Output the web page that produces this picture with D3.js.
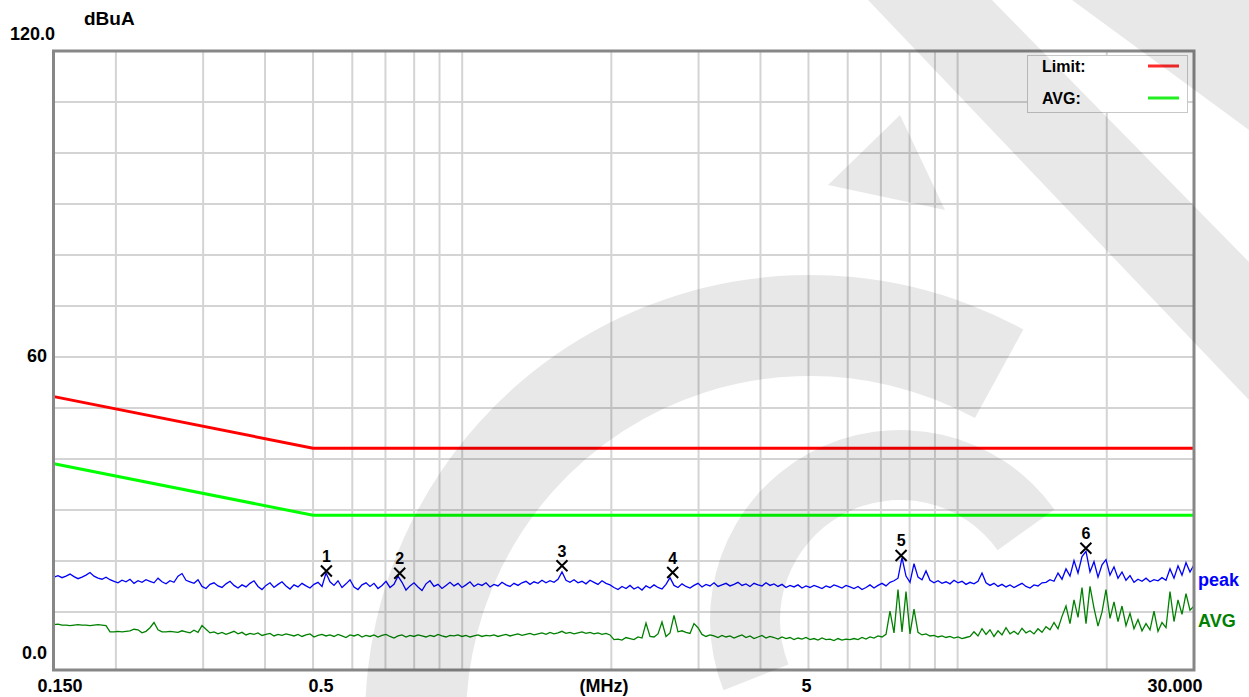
<!DOCTYPE html>
<html><head><meta charset="utf-8">
<script src="https://cdn.jsdelivr.net/npm/d3@7/dist/d3.min.js"></script>
<style>body{margin:0;background:#fff}svg{display:block}text{font-family:"Liberation Sans",Arial,sans-serif;font-weight:bold}</style>
</head><body><svg id="c" width="1249" height="697"></svg>
<script>
// ---------- data ----------
const xTickValues = [0.15, 0.5, 5, 30];
const xTickLabels = ["0.150", "0.5", "5", "30.000"];
const xUnit = "(MHz)";
const yTickValues = [0, 60, 120];
const yTickLabels = ["0.0", "60", "120.0"];
const yUnit = "dBuA";
const gridFreqs = [0.2,0.3,0.4,0.5,0.6,0.7,0.8,0.9,1,2,3,4,5,6,7,8,9,10,20];
const gridLevels = [10,20,30,40,50,60,70,80,90,100,110];
const limitFreq = [0.15, 0.5, 30];
const limitQP = [53, 43, 43];
const limitAV = [40, 30, 30];
const legendItems = ["Limit:", "AVG:"];
const markerFreq = [0.532, 0.748, 1.59, 2.66, 7.69, 18.15];
const markerLevel = [19.2, 18.75, 20.2, 18.9, 22.2, 23.6];
const markerLabels = ["1","2","3","4","5","6"];
const peakTrace = [
18.0,18.3,17.9,18.2,18.6,18.1,17.7,18.0,18.4,18.9,
18.2,17.8,17.6,18.0,17.5,17.2,16.9,17.4,17.1,17.6,
16.8,17.3,17.0,17.5,17.2,16.9,17.8,17.1,16.7,17.3,
17.0,18.2,18.7,17.4,17.1,16.8,17.5,16.2,15.8,16.6,
16.9,16.3,16.0,16.7,17.2,16.4,15.9,16.5,16.1,16.8,
17.3,16.2,15.6,16.4,16.9,16.0,16.6,17.1,16.3,15.7,
16.5,16.1,16.8,16.3,15.9,16.6,17.0,16.2,18.8,17.1,
16.4,17.3,16.0,16.7,17.5,16.1,15.6,16.5,16.9,16.2,
16.8,15.8,16.4,17.2,16.0,16.6,18.2,17.0,15.5,16.3,
16.9,16.1,15.4,16.7,17.3,16.2,16.6,15.8,16.4,17.0,
16.3,16.8,16.0,16.5,17.1,16.2,16.7,16.4,16.9,16.1,
16.6,16.3,17.0,16.5,16.2,16.8,16.4,16.9,17.2,16.6,
17.1,16.8,17.4,16.9,17.3,17.0,17.6,19.0,17.4,17.0,
17.5,16.9,17.2,16.7,17.4,17.0,16.6,17.3,16.8,16.5,
16.0,15.6,16.2,15.8,16.4,15.7,16.1,15.5,16.3,15.9,
16.5,16.0,15.7,16.6,17.9,16.4,16.0,16.7,16.2,15.9,
16.4,16.8,16.1,16.6,16.3,16.9,16.2,16.5,16.8,16.3,
16.6,17.0,16.4,16.7,16.2,16.8,16.5,16.3,16.9,16.4,
16.7,16.2,16.6,16.0,16.4,16.1,16.5,15.9,16.3,16.0,
16.4,16.1,15.8,16.3,16.0,16.5,16.2,15.9,16.4,16.1,
15.8,16.2,15.6,16.0,16.5,15.9,16.4,16.8,16.3,17.0,
17.3,17.8,21.8,18.2,17.0,20.6,18.0,17.5,19.2,17.4,
16.9,17.3,16.8,17.1,16.7,17.4,16.9,17.2,16.6,17.0,
16.7,17.2,18.8,16.9,16.4,16.8,16.2,16.6,16.1,16.5,
16.0,16.4,16.8,16.2,15.9,16.5,16.3,16.9,17.0,17.5,
17.2,18.8,17.6,19.6,18.2,21.2,18.8,22.0,23.0,19.0,
21.0,18.0,20.4,21.4,18.4,20.0,17.8,19.0,17.4,18.3,
17.0,17.6,17.2,17.8,17.1,17.5,17.3,17.9,17.4,19.6,
17.8,20.2,18.4,20.8,19.0,20.4];
const avgTrace = [
8.8,8.9,8.7,8.7,8.6,8.7,8.8,8.7,8.7,8.6,
8.7,8.8,8.7,8.6,7.4,7.4,7.5,7.4,7.5,7.6,
7.9,7.8,7.2,7.5,8.2,9.2,7.8,7.4,7.4,7.5,
7.4,7.3,7.6,7.4,7.2,7.7,7.3,8.6,7.9,7.2,
7.4,7.0,7.3,6.9,7.2,7.5,7.0,7.3,6.8,7.1,
6.9,7.2,6.7,6.9,7.1,6.6,6.9,6.7,7.0,6.8,
6.6,6.9,6.5,6.8,7.0,6.4,6.7,6.9,6.6,6.8,
6.5,6.9,6.6,6.3,6.8,6.6,6.9,6.4,6.7,6.5,
6.8,6.4,6.7,6.9,6.5,6.2,6.6,6.8,6.4,6.7,
6.5,6.8,6.6,6.4,6.7,6.5,6.9,6.6,6.4,6.7,
6.6,6.8,6.5,6.7,6.4,6.6,6.8,6.5,6.7,6.6,
6.8,6.5,6.7,6.9,6.6,6.8,7.0,6.7,6.9,7.1,
6.8,7.0,7.2,6.9,7.3,7.0,7.2,7.5,7.1,7.3,
7.0,7.2,7.4,7.1,7.3,7.0,7.2,6.9,7.1,6.8,
5.9,6.0,5.8,6.3,6.1,5.9,6.4,6.2,9.1,6.5,
6.4,7.0,9.3,6.5,7.2,10.6,7.4,7.6,7.3,7.1,
9.0,8.2,6.9,6.5,6.8,6.6,6.3,6.7,6.4,6.6,
6.2,6.5,6.8,6.3,6.6,6.1,6.4,6.7,6.2,6.5,
6.3,6.0,6.4,6.1,6.3,5.9,6.2,6.0,6.3,5.9,
6.1,5.8,6.2,5.9,6.0,5.7,6.1,5.8,6.0,5.9,
6.1,5.9,6.3,6.0,6.4,6.2,6.6,6.4,6.9,11.4,
7.2,15.6,7.4,15.2,7.0,11.8,7.3,6.8,7.0,6.6,
6.7,6.4,6.6,6.3,6.5,6.2,6.4,6.1,6.3,6.5,
7.4,6.6,8.0,6.9,7.8,6.5,7.6,6.8,8.2,7.0,
7.5,6.9,8.1,7.2,7.6,7.0,8.0,7.3,8.4,7.8,
9.2,8.0,10.4,12.4,9.0,13.6,10.2,16.0,9.0,16.2,
12.0,8.5,11.2,15.6,10.0,13.2,9.4,12.4,8.6,11.0,
8.0,9.8,7.6,9.0,7.8,11.4,7.5,9.2,8.2,15.2,
9.4,13.6,10.8,14.8,11.6,12.4];
const traceLabels = ["peak", "AVG"];
const traceLabelLevels = [17.5, 9.5];
// sweep frequencies: evenly spaced on the log axis from start to stop
const sweepStart = 0.15, sweepStop = 30;

// ---------- drawing ----------
const svg = d3.select("#c");
const L = 54, R = 1194, T = 51, B = 670;
const x = d3.scaleLog().domain([sweepStart, sweepStop]).range([L, R]);
const y = d3.scaleLinear().domain([0, 120]).range([B, T]);
const yGrid = d3.scaleLinear().domain([0, 120]).range([663, T]);
const sweep = i => sweepStart * Math.pow(sweepStop / sweepStart, i / (peakTrace.length - 1));

svg.append("rect").attr("width", 1249).attr("height", 697).attr("fill", "#fff");

// grid
const g = svg.append("g");
g.selectAll(".vg").data(gridFreqs).join("line")
  .attr("x1", d => x(d)).attr("x2", d => x(d)).attr("y1", T).attr("y2", B)
  .attr("stroke", "#d4d4d4").attr("stroke-width", 2);
g.selectAll(".hg").data(gridLevels).join("line")
  .attr("x1", L).attr("x2", R).attr("y1", d => yGrid(d)).attr("y2", d => yGrid(d))
  .attr("stroke", "#d4d4d4").attr("stroke-width", 2);

// limit lines
const limLine = vals => d3.line().x((d, i) => x(limitFreq[i])).y(d => y(d))(vals);
svg.append("path").attr("d", limLine(limitQP)).attr("fill", "none").attr("stroke", "#ff0000").attr("stroke-width", 3);
svg.append("path").attr("d", limLine(limitAV)).attr("fill", "none").attr("stroke", "#00ff00").attr("stroke-width", 3);

// traces
const tr = d3.line().x((d, i) => x(sweep(i))).y(d => y(d));
svg.append("path").attr("d", tr(avgTrace)).attr("fill", "none").attr("stroke", "#008000").attr("stroke-width", 1.3);
svg.append("path").attr("d", tr(peakTrace)).attr("fill", "none").attr("stroke", "#0000ff").attr("stroke-width", 1.3);

// markers
const mk = svg.append("g");
markerFreq.forEach((f, i) => {
  const cx = x(f), cy = y(markerLevel[i]);
  mk.append("path").attr("d", `M${cx-5.5},${cy-5.5}L${cx+5.5},${cy+5.5}M${cx+5.5},${cy-5.5}L${cx-5.5},${cy+5.5}`)
    .attr("stroke", "#000").attr("stroke-width", 2);
  mk.append("text").attr("x", cx).attr("y", cy - 9).attr("text-anchor", "middle")
    .attr("font-size", 16).attr("fill", "#000").text(markerLabels[i]);
});

// frame
svg.append("rect").attr("x", L - 0.5).attr("y", T).attr("width", R - L + 0.5).attr("height", B - T)
  .attr("fill", "none").attr("stroke", "#878787").attr("stroke-width", 3);

// legend
const lg = svg.append("g");
lg.append("rect").attr("x", 1027.5).attr("y", 55.5).attr("width", 160).attr("height", 57)
  .attr("fill", "#fff").attr("stroke", "#c8c8c8").attr("stroke-width", 1);
const legColors = ["#ff2a2a", "#22ee22"];
legendItems.forEach((t, i) => {
  const cy = 66 + i * 32;
  lg.append("text").attr("x", 1042).attr("y", cy + 6).attr("font-size", 16).attr("fill", "#000").text(t);
  lg.append("line").attr("x1", 1148).attr("x2", 1179).attr("y1", cy).attr("y2", cy)
    .attr("stroke", legColors[i]).attr("stroke-width", 3);
});

// trace labels
const tlColors = ["#0000ff", "#008000"];
traceLabels.forEach((t, i) => {
  svg.append("text").attr("x", 1198).attr("y", y(traceLabelLevels[i]) + 6).attr("font-size", 18)
    .attr("fill", tlColors[i]).text(t);
});

// y labels
yTickValues.forEach((v, i) => {
  const t = svg.append("text").attr("font-size", 18).attr("fill", "#000").text(yTickLabels[i]);
  if (v === 120) t.attr("x", 10).attr("y", y(v) - 11);
  else if (v === 0) t.attr("x", 47).attr("y", y(v) - 11).attr("text-anchor", "end");
  else t.attr("x", 47).attr("y", y(v) + 1).attr("text-anchor", "end");
});
svg.append("text").attr("x", 84).attr("y", 25).attr("font-size", 19).attr("fill", "#000").text(yUnit);

// x labels
const xdx = [6, 8, -2, -19];
xTickValues.forEach((v, i) => {
  svg.append("text").attr("x", x(v) + xdx[i]).attr("y", 692).attr("text-anchor", "middle")
    .attr("font-size", 18).attr("fill", "#000").text(xTickLabels[i]);
});
svg.append("text").attr("x", 604).attr("y", 692).attr("text-anchor", "middle").attr("font-size", 18).attr("fill", "#000").text(xUnit);

// watermark (light translucent overlay)
const wm = svg.append("g").attr("fill", "#000").attr("fill-opacity", 0.09);
wm.append("path").attr("d", "M868,0L992,0L1249,262L1249,400Z");
wm.append("path").attr("d", "M1072,0L1249,0L1249,130Z");
wm.append("path").attr("d", "M828,185L900,115L945,210Z");
wm.append("path").attr("d", d3.arc()({innerRadius: 344, outerRadius: 445, startAngle: -1.65, endAngle: 0.5})).attr("transform", "translate(810,720)");
wm.append("path").attr("d", d3.arc()({innerRadius: 120, outerRadius: 190, startAngle: -1.95, endAngle: 0.95})).attr("transform", "translate(900,620)");
</script></body></html>
